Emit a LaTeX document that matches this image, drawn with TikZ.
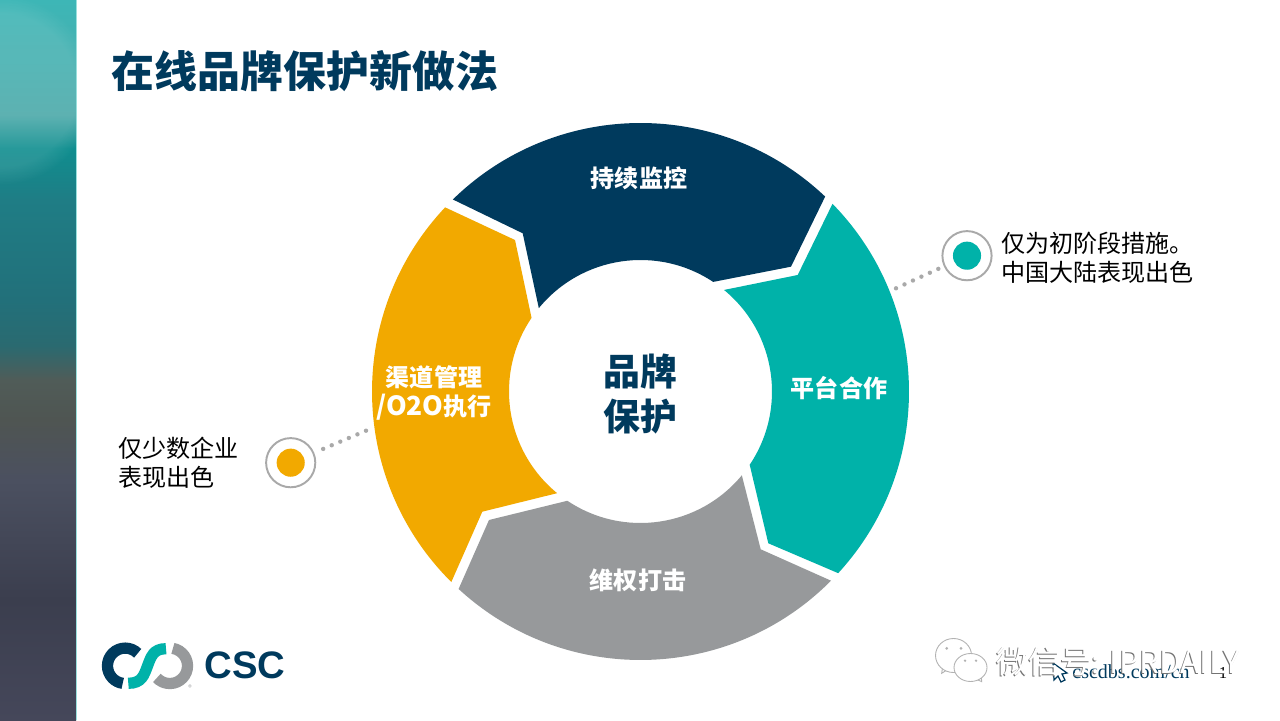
\documentclass[tikz,border=0pt]{standalone}
\usepackage{fontspec}
\usetikzlibrary{fadings}
\setmainfont{Noto Sans CJK SC}
\newfontfamily\logofont{Liberation Sans}
\newfontfamily\urlfont{Liberation Serif}
\definecolor{cscnavy}{HTML}{003A5D}
\definecolor{cscteal}{HTML}{00B2A9}
\definecolor{cscorange}{HTML}{F2A900}
\definecolor{cscgray}{HTML}{97999B}
\definecolor{markgray}{HTML}{A9A9A9}
\definecolor{bandA}{HTML}{45475A}
\definecolor{bandB}{HTML}{3B3E4E}
\definecolor{bandC}{HTML}{4B5060}
\definecolor{bandD}{HTML}{4F5552}
\definecolor{bandE}{HTML}{505C58}
\definecolor{bandF}{HTML}{2A6A70}
\definecolor{bandG}{HTML}{22707A}
\definecolor{bandH}{HTML}{1F7D85}
\definecolor{bandI}{HTML}{0F8E8F}
\definecolor{bandJ}{HTML}{4BA9A9}
\definecolor{bandK}{HTML}{45B0B0}
\definecolor{bandL}{HTML}{3DB6B6}
\pgfdeclareverticalshading{bandshade}{100bp}{
  color(0bp)=(bandA);
  color(25bp)=(bandA);
  color(33.35bp)=(bandB);
  color(41.65bp)=(bandC);
  color(45.85bp)=(bandD);
  color(48.6bp)=(bandE);
  color(51bp)=(bandF);
  color(54.15bp)=(bandG);
  color(61.1bp)=(bandH);
  color(64.7bp)=(bandI);
  color(67bp)=(bandJ);
  color(70.85bp)=(bandK);
  color(75bp)=(bandL);
  color(100bp)=(bandL)}
\tikzset{
  ringlabel/.style={text=white,font=\fontsize{13.7pt}{16.5pt}\selectfont\bfseries,align=center},
  notetext/.style={text=black,font=\fontsize{13.7pt}{16.2pt}\selectfont,align=left,anchor=west},
  markring/.style={draw=markgray,line width=1.1pt,fill=white,circle,minimum size=28pt,inner sep=0pt},
  markdot/.style={circle,minimum size=16pt,inner sep=0pt},
  leader/.style={draw=markgray,line width=2.5pt,line cap=round,dash pattern=on 0pt off 5.3pt,shorten >=2.6pt},
  wmark/.style={font=\fontsize{18pt}{18pt}\selectfont,anchor=west,inner sep=0pt},
  wechat/.style={draw=black!30,fill=white,line width=0.5pt},
}
\begin{document}
\begin{tikzpicture}[x=0.02cm,y=0.02cm]
  \useasboundingbox (0,0) rectangle (1280,720);
  \fill[white] (0,0) rectangle (1280,720);
  \shade[shading=bandshade] (0,0) rectangle (76,720);
  \begin{scope}
    \clip (0,0) rectangle (76,720);
    \fill[white,opacity=0.1,path fading=circle with fuzzy edge 20 percent] (0,630) circle (95);
  \end{scope}
  \draw[cscteal!40,line width=0.5pt] (76.5,0)--(76.5,720);
  \node (title) at (111,649) [anchor=west,text=cscnavy,font=\fontsize{24.45pt}{28pt}\selectfont\bfseries,inner sep=0pt]{在线品牌保护新做法};

  \coordinate (c) at (640.5,328.5);
  % ring
  \fill[cscnavy] ([shift={(134.34:268.5)}]c) arc[start angle=134.34,end angle=46.55,radius=268.5]
    --(791,453.3)--([shift={(56.45:131.5)}]c) arc[start angle=56.45,end angle=140.65,radius=131.5]
    --(522.7,486.7)--cycle;
  \fill[cscteal] ([shift={(44.35:268.5)}]c) arc[start angle=44.35,end angle=-42.58,radius=268.5]
    --(768.3,176.7)--([shift={(-33.87:131.5)}]c) arc[start angle=-33.87,end angle=50.56,radius=131.5]
    --(797.7,445)--cycle;
  \fill[cscgray] ([shift={(-44.8:268.5)}]c) arc[start angle=-44.8,end angle=-132.65,radius=268.5]
    --(489,200)--([shift={(-123.8:131.5)}]c) arc[start angle=-123.8,end angle=-39.6,radius=131.5]
    --(760.7,170.7)--cycle;
  \fill[cscorange] ([shift={(225.2:268.5)}]c) arc[start angle=225.2,end angle=136.7,radius=268.5]
    --(515,480)--([shift={(145.95:131.5)}]c) arc[start angle=145.95,end angle=230.65,radius=131.5]
    --(482.3,208.3)--cycle;

  \node (keep) at (639,542) [ringlabel]{持续监控};
  \node (plat) at (839,332) [ringlabel]{平台合作};
  \node (fight) at (638,140) [ringlabel]{维权打击};
  \node (chan) at (434,327) [ringlabel]{渠道管理\\{\fontsize{15pt}{16.5pt}\selectfont /O2O}执行};
  \node (brand) at (640,326) [text=cscnavy,align=center,font=\fontsize{21pt}{26pt}\selectfont\bfseries]{品牌\\保护};

  % markers
  \node (ringr) at (967,464.3) [markring]{};
  \node (dotr) at (967,464.3) [markdot,fill=cscteal]{};
  \node (ringl) at (290.7,257.3) [markring]{};
  \node (dotl) at (290.7,257.3) [markdot,fill=cscorange]{};
  \coordinate (leadr) at (896,431.7);
  \coordinate (leadl) at (366,289.3);
  \draw[leader] (leadr)--(ringr);
  \draw[leader] (leadl)--(ringl);
  \node (noter) at (1001,462) [notetext,inner sep=0pt]{仅为初阶段措施。\\中国大陆表现出色};
  \node (notel) at (118,257) [notetext,inner sep=0pt]{仅少数企业\\表现出色};

  % logo
  \draw[cscnavy,line width=6.4pt] (137.7,66.7) arc[start angle=45,end angle=262,radius=17.7];
  \draw[cscgray,line width=6.4pt] (172.9,71.6) arc[start angle=80,end angle=-137,radius=17.7];
  \draw[cscteal,line width=6.4pt] (166,71.3) ..controls (153,71.3) and (151,63) .. (147.5,54)
    ..controls (144,45) and (142,36.7) .. (128.3,36.7);
  \node (csc) at (204,54.3) [anchor=west,inner sep=0pt,text=cscnavy,font=\fontsize{21.8pt}{24pt}\logofont\bfseries]{CSC};
  \node (regd) at (190,32) [text=cscgray,font=\fontsize{4pt}{4pt}\selectfont,inner sep=0pt]{®};

  % footer
  \node (url) at (1072,48) [anchor=west,inner sep=0pt,text=cscnavy,font=\fontsize{11.4pt}{12pt}\urlfont]{cscdbs.com/cn};
  \node (pgnum) at (1223,47) [inner sep=0pt,text=black,font=\fontsize{9.5pt}{10pt}\urlfont]{1};
  \draw[cscnavy,fill=white,line width=0.7pt] (1053,57)--(1054,40)--(1058,44)--(1061,38)--(1065,40)--(1062,46)--(1067,47)--cycle;

  % watermark
  \node (wmg) at (995.5,57) [wmark,text=black!55]{微信号: IPRDAILY};
  \node (wmw) at (996.5,58) [wmark,text=white]{微信号: IPRDAILY};
  \draw[wechat] (941.7,46.7)--(943,56)--(950,52)--cycle;
  \draw[wechat] (953.5,64.5) ellipse (18 and 17);
  \draw[wechat] (981.7,38.3)--(974,42)--(981,47)--cycle;
  \draw[wechat] (970.5,52.5) ellipse (16.5 and 14);
  \fill[black!30] (946.7,71.7) circle (1.5) (961,71.7) circle (1.5) (965,59.3) circle (1.3) (976,59.3) circle (1.3);
\end{tikzpicture}
\end{document}
